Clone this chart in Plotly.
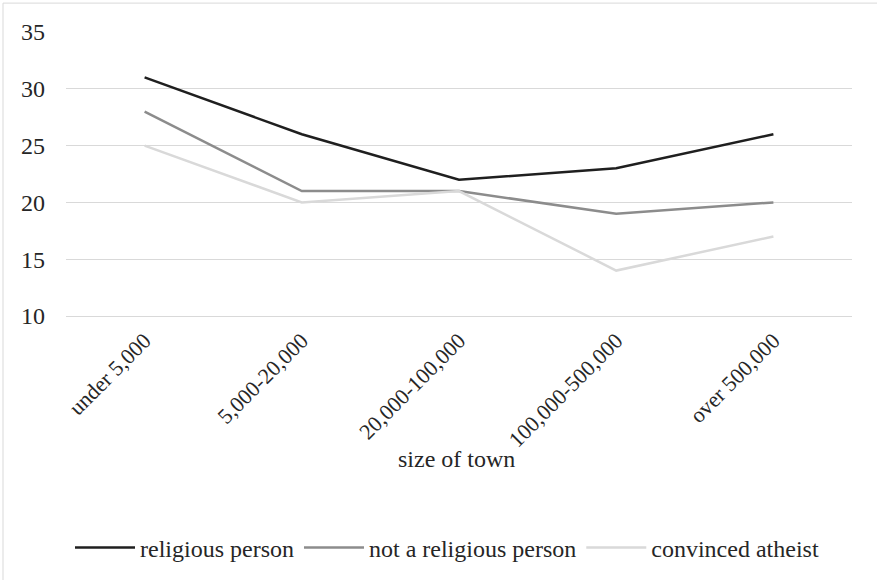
import plotly.graph_objects as go

categories = ["under 5,000", "5,000-20,000", "20,000-100,000", "100,000-500,000", "over 500,000"]
religious = [31, 26, 22, 23, 26]
not_religious = [28, 21, 21, 19, 20]
atheist = [25, 20, 21, 14, 17]
series_names = ["religious person", "not a religious person", "convinced atheist"]
y_ticks = [10, 15, 20, 25, 30, 35]

colors = ["#1f1f1f", "#8c8c8c", "#d9d9d9"]
FONT = "Liberation Serif"
TXT = "#262626"

fig = go.Figure()
for name, vals, col in zip(series_names, [religious, not_religious, atheist], colors):
    fig.add_trace(go.Scatter(x=categories, y=vals, mode="lines", name=name,
                             line=dict(color=col, width=2.5)))

W, H = 877, 580
ml, mr, mt, mb = 66, 25, 32, 263
pw, ph = W - ml - mr, H - mt - mb

fig.update_layout(
    width=W, height=H,
    margin=dict(l=ml, r=mr, t=mt, b=mb),
    paper_bgcolor="white", plot_bgcolor="white",
    font=dict(family=FONT, size=24, color=TXT),
    showlegend=True,
    legend=dict(orientation="h", x=(447 - ml) / pw, xanchor="center", y=-(548 - (H - mb)) / ph, yanchor="middle",
                font=dict(family=FONT, size=24, color=TXT), itemwidth=60,
                bgcolor="rgba(0,0,0,0)"),
    xaxis=dict(type="category", range=[-0.5, 4.5], tickangle=-45, showgrid=False,
               showline=True, linecolor="#d9d9d9", linewidth=1, ticks="",
               tickfont=dict(family=FONT, size=22, color=TXT), ticklabelstandoff=2),
    yaxis=dict(range=[10, 35], tickvals=y_ticks, showgrid=True, gridcolor="#d9d9d9",
               gridwidth=1, zeroline=False, showline=False, ticks="",
               tickfont=dict(family=FONT, size=24, color=TXT), ticklabelstandoff=20),
    annotations=[dict(text="size of town", xref="paper", yref="paper",
                      x=(456 - ml) / pw, y=-(461 - (H - mb)) / ph,
                      xanchor="center", yanchor="middle", showarrow=False,
                      font=dict(family=FONT, size=24, color=TXT))],
    shapes=[dict(type="rect", xref="paper", yref="paper",
                 x0=(3 - ml) / pw, x1=(W + 5 - ml) / pw,
                 y0=-(H + 5 - (H - mb)) / ph, y1=1 + (mt - 3) / ph,
                 line=dict(color="#d9d9d9", width=1), fillcolor="rgba(0,0,0,0)", layer="below")],
)

fig.write_html("out.html")
